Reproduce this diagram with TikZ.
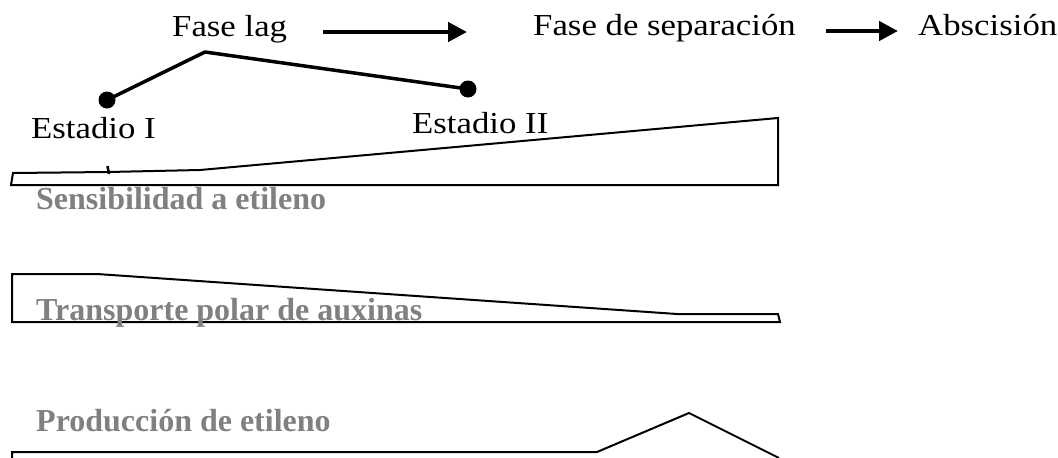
\documentclass[tikz,border=0pt]{standalone}
\usepackage{fontspec}
\setmainfont{Liberation Serif}
\newfontfamily\topfont[FakeStretch=1.14]{Liberation Serif}
\usetikzlibrary{arrows.meta,calc}
\definecolor{labgray}{HTML}{808080}
\tikzset{
  toplab/.style={inner sep=0pt, anchor=base west, font=\topfont\fontsize{30.5}{32}\selectfont},
  graylab/.style={inner sep=0pt, anchor=base west, text=labgray, font=\bfseries\fontsize{32}{34}\selectfont},
  bigarrow/.style={line width=4.5pt, -{Triangle[length=19pt,width=19pt]}},
  stageline/.style={line width=3.5pt, line join=round},
  dotnode/.style={circle, fill=black, inner sep=0pt, minimum size=17pt},
  curve/.style={line width=2pt, line join=miter}
}
\begin{document}
\begin{tikzpicture}[x=1pt,y=-1pt]
\useasboundingbox (0,0) rectangle (1058,458);
% top labels
\node[toplab] (lag) at (172,36) {Fase lag};
\node[toplab] (sep) at (533,35) {Fase de separación};
\node[toplab] (abs) at (918,35) {Abscisión};
\draw[bigarrow] ($(lag.base east)+(36,-4)$) -- ($(sep.base west)+(-66,-3)$);
\draw[bigarrow] ($(sep.base east)+(30,-4)$) -- ($(abs.base west)+(-20,-4)$);
% stages
\node[dotnode] (s1) at (107,100) {};
\node[dotnode] (s2) at (468,89) {};
\coordinate (peak) at (205,52);
\draw[stageline] (s1.center) -- (peak) -- (s2.center);
\node[toplab] (e1) at (31,138) {Estadio I};
\node[toplab] (e2) at (412,133) {Estadio II};
% curve 1: sensibilidad
\draw[curve] (11,185) -- (13,173) -- (108,172) -- (200,170) -- (778,118) -- (778,185) -- cycle;
\draw[line width=2.5pt] (107.5,166) -- (109,174);
\node[graylab] (g1) at (36,209) {Sensibilidad a etileno};
% curve 2: transporte
\draw[curve] (12,274) -- (97,274) -- (677,314) -- (778,314) -- (780,322) -- (12,322) -- cycle;
\node[graylab] (g2) at (36,320) {Transporte polar de auxinas};
% curve 3: produccion
\draw[curve] (12,460) -- (12,452) -- (597,452) -- (689,413) -- (779,458);
\node[graylab] (g3) at (36,431) {Producción de etileno};
\end{tikzpicture}
\end{document}
